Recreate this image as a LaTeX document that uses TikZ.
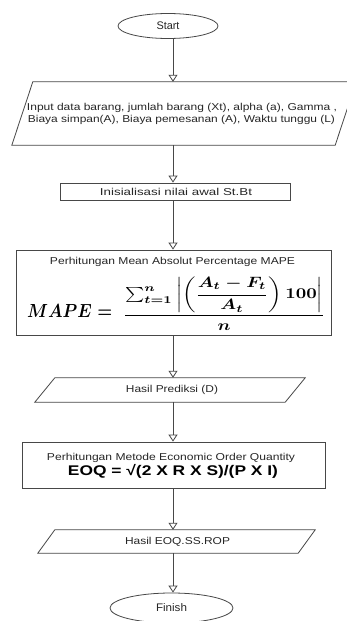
\documentclass[tikz,border=0pt]{standalone}
\usepackage{amsmath,amssymb}
\usepackage{graphicx}
\usepackage{fontspec}
\setmainfont{Liberation Sans}
\usetikzlibrary{arrows.meta,shapes.geometric}
\newcommand\hfitto[2]{\resizebox{#1pt}{\height}{#2}}
\begin{document}
\begin{tikzpicture}[x=1pt,y=-1pt,
  line/.style={draw=black!72, line width=0.8pt},
  arr/.style={draw=black!72, line width=0.8pt, -{Triangle[open,length=7pt,width=9pt]}},
  txt/.style={text=black!85, font=\fontsize{10}{11}\selectfont, align=center, inner sep=0pt},
  term/.style={ellipse, line, txt, font=\fontsize{11}{13}\selectfont},
  proc/.style={rectangle, line, txt},
  io/.style={txt}]
\useasboundingbox (0,0) rectangle (346,621);
\fill[white] (0,0) rectangle (346,621);
\coordinate (ax) at (173,0);

\node[term, minimum width=100, minimum height=25] (start) at (168,26) {\hfitto{23}{Start}};

\node[io, minimum width=344, minimum height=63] (input) at (184,113.5) {};
\node[txt] (in1) at (182,108) {\hfitto{310}{Input data barang, jumlah barang (Xt), alpha (a), Gamma ,}};
\node[txt] (in2) at (181.5,119.5) {\hfitto{307}{Biaya simpan(A), Biaya pemesanan (A), Waktu tunggu (L)}};
\draw[line] ([xshift=21]input.north west) -- (input.north east) -- ([xshift=-21]input.south east) -- (input.south west) -- cycle;

\node[proc, minimum width=230, minimum height=17] (init) at (175,191.5) {};
\node[txt] (initt) at (176,192) {\hfitto{152}{Inisialisasi nilai awal St.Bt}};

\node[proc, minimum width=315, minimum height=85] (mape) at (173.5,292.5) {};
\node[txt] (mapet) at (172.5,261.5) {\hfitto{245}{Perhitungan Mean Absolut Percentage MAPE}};
\node[txt, text=black, anchor=base west] (mapel) at (27,317)
  {\resizebox{85pt}{13pt}{\boldmath$MAPE =$}};
\node[txt, text=black] (mapef) at (224,303.5)
  {\resizebox*{202pt}{53pt}{\boldmath$\displaystyle\frac{\sum_{t=1}^{n}\left|\left(\dfrac{A_t-F_t}{A_t}\right)100\right|}{n}$}};

\node[io, minimum width=270, minimum height=24] (pred) at (170,390) {};
\node[txt] (predt) at (172,390) {\hfitto{92}{Hasil Prediksi (D)}};
\draw[line] ([xshift=20]pred.north west) -- (pred.north east) -- ([xshift=-20]pred.south east) -- (pred.south west) -- cycle;

\node[proc, minimum width=303, minimum height=46] (eoq) at (173.5,465) {};
\node[txt] (eoqt) at (171,458) {\hfitto{248}{Perhitungan Metode Economic Order Quantity}};
\node[txt, text=black, font=\fontsize{14}{16}\selectfont\bfseries] (eoqf) at (173,471.5) {\hfitto{210}{EOQ = √(2 X R X S)/(P X I)}};

\node[io, minimum width=277, minimum height=23] (res) at (176.5,541.5) {};
\node[txt] (rest) at (177.5,541.5) {\hfitto{105}{Hasil EOQ.SS.ROP}};
\draw[line] ([xshift=17]res.north west) -- (res.north east) -- ([xshift=-17]res.south east) -- (res.south west) -- cycle;

\node[term, minimum width=123, minimum height=30] (finish) at (171.5,608) {\hfitto{31}{Finish}};

\draw[arr] (start.south -| ax) -- (input.north -| ax);
\draw[arr] (input.south -| ax) -- (init.north -| ax);
\draw[arr] (init.south -| ax) -- (mape.north -| ax);
\draw[arr] (mape.south -| ax) -- (pred.north -| ax);
\draw[arr] (pred.south -| ax) -- (eoq.north -| ax);
\draw[arr] (eoq.south -| ax) -- (res.north -| ax);
\draw[arr] (res.south -| ax) -- (finish.north -| ax);
\end{tikzpicture}
\end{document}
